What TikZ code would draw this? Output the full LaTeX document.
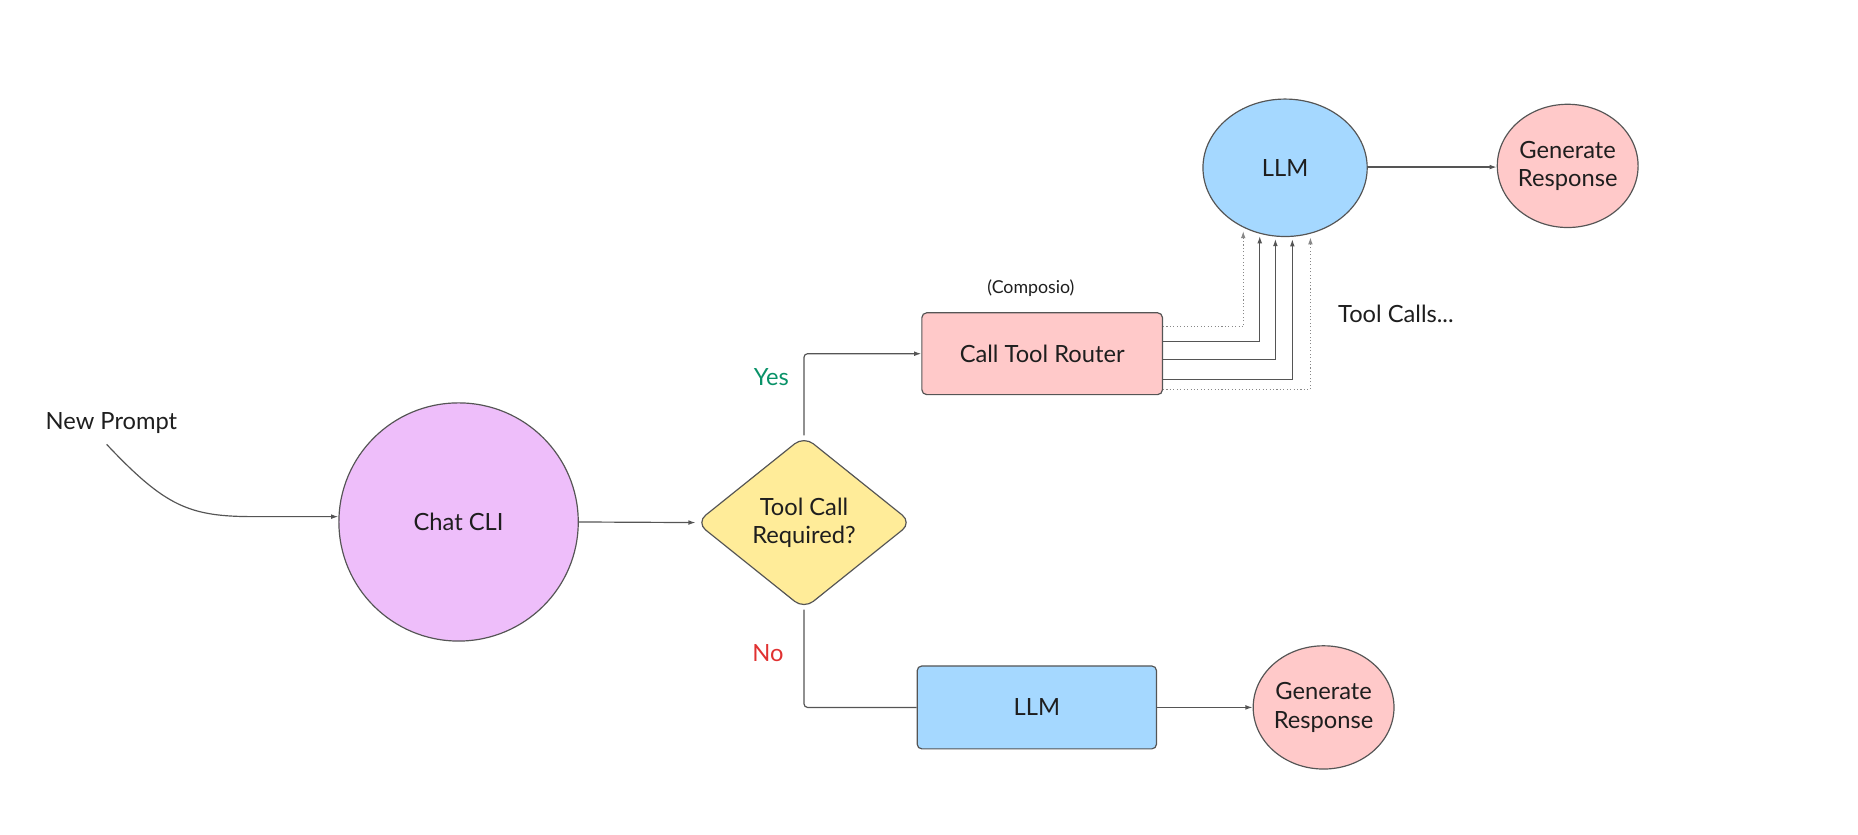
\documentclass[tikz,border=0pt]{standalone}
\usepackage{fontspec}
\setmainfont{Lato}
\usetikzlibrary{shapes.geometric,arrows.meta,calc}
\definecolor{ink}{HTML}{1E1E1E}
\definecolor{edge}{HTML}{555555}
\definecolor{violetfill}{HTML}{EEBEFA}
\definecolor{yellowfill}{HTML}{FFEC99}
\definecolor{pinkfill}{HTML}{FFC9C9}
\definecolor{bluefill}{HTML}{A5D8FF}
\definecolor{yesgreen}{HTML}{099268}
\definecolor{nored}{HTML}{E03131}
\tikzset{
  base/.style={draw=edge, line width=1pt, text=ink, font=\fontsize{20}{24}\selectfont, align=center, inner sep=0pt},
  ell/.style={base, ellipse},
  boxnode/.style={base, rectangle, rounded corners=4pt},
  decision/.style={base, diamond, rounded corners=10pt},
  lbl/.style={text=ink, font=\fontsize{20}{24}\selectfont, inner sep=0pt},
  conn/.style={draw=edge, line width=1pt, -{Latex[length=6pt,width=4pt]}},
  plainconn/.style={draw=edge, line width=1pt},
  dotconn/.style={draw=edge!70, line width=0.9pt, dotted, -{Latex[length=6pt,width=4pt]}},
}
\begin{document}
\begin{tikzpicture}[x=1pt,y=-1pt]
\useasboundingbox (0,0) rectangle (1568,704);

% nodes
\node[lbl] (np) at (94,357) {New Prompt};
\coordinate (npstart) at (90,375);
\node[ell, fill=violetfill, minimum width=202pt, minimum height=201pt] (cli) at (387,440.5) {Chat CLI};
\node[decision, fill=yellowfill, minimum width=182pt, minimum height=146pt] (dia) at (678.5,441) {Tool Call\\Required?};
\node[boxnode, fill=pinkfill, minimum width=203pt, minimum height=69pt] (router) at (879.5,298.5) {Call Tool Router};
\node[lbl, font=\fontsize{15}{18}\selectfont] (composio) at (870,243) {(Composio)};
\node[ell, fill=bluefill, minimum width=138.6pt, minimum height=116pt] (llm1) at (1084.5,141.6) {LLM};
\node[ell, fill=pinkfill, minimum width=112pt, minimum height=104pt] (gr1) at (1323,140) {Generate\\Response};
\node[lbl] (tc) at (1178,265) {Tool Calls...};
\node[boxnode, fill=bluefill, minimum width=202pt, minimum height=70pt] (llm2) at (875,597) {LLM};
\node[ell, fill=pinkfill, minimum width=111pt, minimum height=104pt] (gr2) at (1117,597) {Generate\\Response};
\node[lbl, text=yesgreen] (yes) at (651,318) {Yes};
\node[lbl, text=nored] (no) at (648,551) {No};

% connectors
\draw[conn] (npstart) .. controls (140,428) and (160,436) .. (215,436) -- (cli.west |- 0,436);
\draw[conn] (cli.east) -- (dia.west);
\draw[conn, rounded corners=3pt] (dia.north) |- (router.west);
\draw[plainconn, rounded corners=3pt] (dia.south) |- (llm2.west);
\draw[conn] (llm2.east) -- (gr2.west);
\draw[conn] (llm1.east |- 0,141) -- (gr1.west |- 0,141);

\draw[dotconn, shorten >=3pt] ([yshift=22.65pt]router.east) -| (llm1.235.6);
\draw[conn, shorten >=2pt] ([yshift=10.55pt]router.east) -| (llm1.249.2);
\draw[conn, shorten >=2pt] ([yshift=-4.85pt]router.east) -| (llm1.262.5);
\draw[conn, shorten >=2pt] ([yshift=-21.55pt]router.east) -| (llm1.276.9);
\draw[dotconn, shorten >=3pt] ([yshift=-30.25pt]router.east) -| (llm1.291.4);
\end{tikzpicture}
\end{document}
